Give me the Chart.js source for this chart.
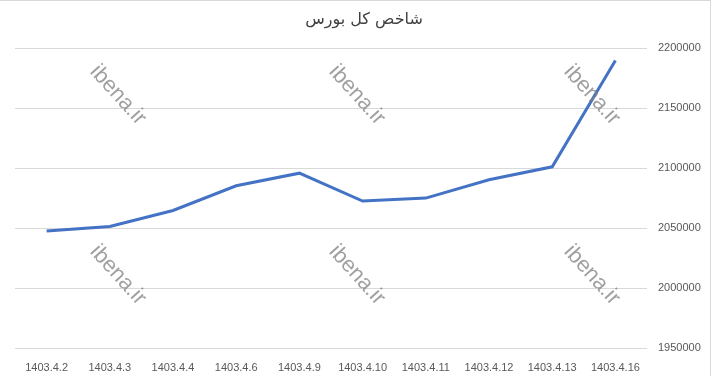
<!DOCTYPE html>
<html>
<head>
<meta charset="utf-8">
<script src="https://cdn.jsdelivr.net/npm/chart.js@4"></script>
<style>
  html, body { margin: 0; padding: 0; background: #fff; }
  #wrap { position: relative; width: 713px; height: 376px; }
</style>
</head>
<body>
<div id="wrap"><canvas id="shakhes" width="713" height="376"></canvas></div>
<script>
// داده‌های نمودار
const tarikhha = ['1403.4.2', '1403.4.3', '1403.4.4', '1403.4.6', '1403.4.9', '1403.4.10', '1403.4.11', '1403.4.12', '1403.4.13', '1403.4.16'];
const shakhesKol = [2047500, 2051400, 2064700, 2085300, 2095800, 2072500, 2075000, 2090300, 2101100, 2189700];
const yTicks = [1950000, 2000000, 2050000, 2100000, 2150000, 2200000];
const onvan = 'شاخص کل بورس';
const watermark = 'ibena.ir';

const fontTick = "'Liberation Sans', Arial, sans-serif";

// واترمارک و کادر
const tarhPlugin = {
    id: 'tarh',
    afterDatasetsDraw(chart) {
        const c = chart.ctx;
        c.save();
        c.font = "22px 'Liberation Sans', sans-serif";
        c.fillStyle = 'rgba(128,128,128,0.75)';
        c.textAlign = 'center';
        c.textBaseline = 'middle';
        const jaha = [[118, 95], [357, 95], [592, 95], [118, 275], [357, 275], [592, 275]];
        jaha.forEach(function (p) {
            c.save();
            c.translate(p[0], p[1]);
            c.rotate(48 * Math.PI / 180);
            c.fillText(watermark, 0, 0);
            c.restore();
        });
        c.restore();
    },
    afterDraw(chart) {
        const c = chart.ctx;
        c.save();
        c.strokeStyle = '#d9d9d9';
        c.lineWidth = 1;
        c.beginPath();
        c.moveTo(0, 0.5);
        c.lineTo(711, 0.5);
        c.moveTo(710.5, 0);
        c.lineTo(710.5, 376);
        c.stroke();
        c.restore();
    }
};

function montarGrafico() {
    const ctx = document.getElementById('shakhes');
    new Chart(ctx, {
        type: 'line',
        data: {
            labels: tarikhha,
            datasets: [{
                label: onvan,
                data: shakhesKol,
                borderColor: '#4472C4',
                borderWidth: 3,
                pointRadius: 0,
                tension: 0,
                fill: false
            }]
        },
        options: {
            responsive: false,
            animation: false,
            layout: { padding: { left: 15, right: 0, top: 0, bottom: 0 } },
            scales: {
                x: {
                    offset: true,
                    grid: { display: false, drawTicks: false },
                    border: { display: false },
                    ticks: {
                        color: '#595959',
                        font: { family: fontTick, size: 11 },
                        padding: 13,
                        maxRotation: 0,
                        autoSkip: false
                    },
                    afterFit(scale) { scale.height = 28; }
                },
                y: {
                    position: 'right',
                    min: 1950000,
                    max: 2200000,
                    afterBuildTicks(scale) {
                        scale.ticks = yTicks.map(function (v) { return { value: v }; });
                    },
                    grid: { color: '#d9d9d9', lineWidth: 1, drawTicks: false },
                    border: { display: false },
                    ticks: {
                        color: '#595959',
                        font: { family: fontTick, size: 11 },
                        padding: 11,
                        callback: function (v) { return String(v); }
                    },
                    afterFit(scale) { scale.width = 66; }
                }
            },
            plugins: {
                legend: { display: false },
                tooltip: { enabled: false },
                title: {
                    display: true,
                    text: onvan,
                    color: '#404040',
                    font: { family: "'DejaVu Sans', 'Noto Sans', sans-serif", size: 16, weight: 'normal' },
                    padding: { top: 10, bottom: 19 }
                }
            }
        },
        plugins: [tarhPlugin]
    });
}

document.addEventListener('DOMContentLoaded', function () {
    montarGrafico();
});
</script>
</body>
</html>
